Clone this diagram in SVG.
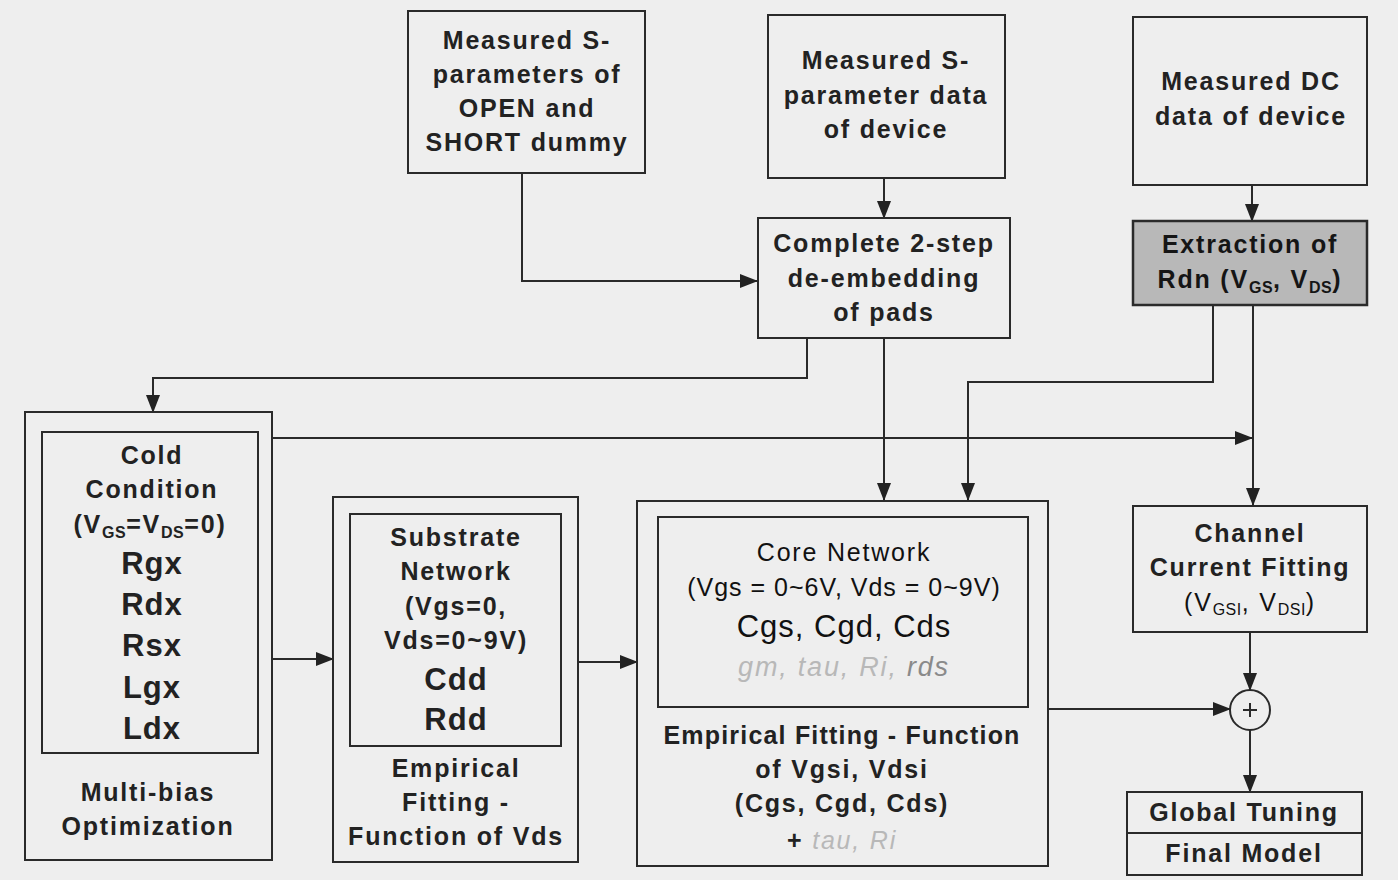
<svg xmlns="http://www.w3.org/2000/svg" width="1398" height="880" viewBox="0 0 1398 880">
<defs>
<marker id="ah" markerWidth="18" markerHeight="14" refX="17" refY="7" orient="auto" markerUnits="userSpaceOnUse">
<path d="M0,0 L18,7 L0,14 Z" fill="#222"/>
</marker>
<style>
.box{fill:none;stroke:#2a2a2a;stroke-width:2}
.t{font-family:"Liberation Sans",Arial,sans-serif;font-weight:bold;font-size:25px;fill:#222;text-anchor:middle;letter-spacing:1.8px}
.big{font-size:31px;letter-spacing:1px}
.sub{font-size:16px;letter-spacing:0.5px}
.ln{fill:none;stroke:#2a2a2a;stroke-width:2}
.lt{fill:#b8b8b8;font-style:italic;font-weight:normal}
.md{fill:#8a8a8a;font-style:italic;font-weight:normal}
.rg{font-weight:normal;fill:#111}
</style>
</defs>
<rect x="0" y="0" width="1398" height="880" fill="#eeeeee"/>

<g id="connectors">
<path class="ln" d="M522,173 V281 H757" marker-end="url(#ah)"/>
<path class="ln" d="M884,178 V218" marker-end="url(#ah)"/>
<path class="ln" d="M1252,185 V221" marker-end="url(#ah)"/>
<path class="ln" d="M807,338 V378 H153 V412" marker-end="url(#ah)"/>
<path class="ln" d="M884,338 V500" marker-end="url(#ah)"/>
<path class="ln" d="M1213,305 V382 H968 V500" marker-end="url(#ah)"/>
<path class="ln" d="M1253,305 V505" marker-end="url(#ah)"/>
<path class="ln" d="M272,438 H1252" marker-end="url(#ah)"/>
<path class="ln" d="M273,659 H333" marker-end="url(#ah)"/>
<path class="ln" d="M578,662 H637" marker-end="url(#ah)"/>
<path class="ln" d="M1048,709 H1230" marker-end="url(#ah)"/>
<path class="ln" d="M1250,632 V690" marker-end="url(#ah)"/>
<path class="ln" d="M1250,730 V792" marker-end="url(#ah)"/>
</g>

<g id="open-short">
<rect class="box" x="408" y="11" width="237" height="162"/>
<text class="t" x="527" y="49">Measured S-</text>
<text class="t" x="527" y="83">parameters of</text>
<text class="t" x="527" y="117">OPEN and</text>
<text class="t" x="527" y="151">SHORT dummy</text>
</g>

<g id="sparam-device">
<rect class="box" x="768" y="15" width="237" height="163"/>
<text class="t" x="886" y="69">Measured S-</text>
<text class="t" x="886" y="104">parameter data</text>
<text class="t" x="886" y="138">of device</text>
</g>

<g id="dc-device">
<rect class="box" x="1133" y="17" width="234" height="168"/>
<text class="t" x="1251" y="90">Measured DC</text>
<text class="t" x="1251" y="125">data of device</text>
</g>

<g id="deembed">
<rect class="box" x="758" y="218" width="252" height="120"/>
<text class="t" x="884" y="252">Complete 2-step</text>
<text class="t" x="884" y="287">de-embedding</text>
<text class="t" x="884" y="321">of pads</text>
</g>

<g id="extraction">
<rect x="1133" y="221" width="234" height="84" fill="#b8b8b8" stroke="#2a2a2a" stroke-width="2.5"/>
<text class="t" x="1250" y="253" style="fill:#151515">Extraction of</text>
<text class="t" x="1250" y="288" style="fill:#151515">Rdn (V<tspan class="sub" dy="5">GS</tspan><tspan dy="-5">, V</tspan><tspan class="sub" dy="5">DS</tspan><tspan dy="-5">)</tspan></text>
</g>

<g id="cold">
<rect class="box" x="25" y="412" width="247" height="448"/>
<rect class="box" x="42" y="432" width="216" height="321"/>
<text class="t" x="152" y="464">Cold</text>
<text class="t" x="152" y="498">Condition</text>
<text class="t" x="150" y="533">(V<tspan class="sub" dy="5">GS</tspan><tspan dy="-5">=V</tspan><tspan class="sub" dy="5">DS</tspan><tspan dy="-5">=0)</tspan></text>
<text class="t big" x="152" y="574">Rgx</text>
<text class="t big" x="152" y="615">Rdx</text>
<text class="t big" x="152" y="656">Rsx</text>
<text class="t big" x="152" y="698">Lgx</text>
<text class="t big" x="152" y="739">Ldx</text>
<text class="t" x="148" y="801">Multi-bias</text>
<text class="t" x="148" y="835">Optimization</text>
</g>

<g id="substrate">
<rect class="box" x="333" y="497" width="245" height="365"/>
<rect class="box" x="350" y="514" width="211" height="232"/>
<text class="t" x="456" y="546">Substrate</text>
<text class="t" x="456" y="580">Network</text>
<text class="t" x="456" y="615">(Vgs=0,</text>
<text class="t" x="456" y="649">Vds=0~9V)</text>
<text class="t big" x="456" y="690">Cdd</text>
<text class="t big" x="456" y="730">Rdd</text>
<text class="t" x="456" y="777">Empirical</text>
<text class="t" x="456" y="811">Fitting -</text>
<text class="t" x="456" y="845">Function of Vds</text>
</g>

<g id="core">
<rect class="box" x="637" y="501" width="411" height="365"/>
<rect class="box" x="658" y="517" width="370" height="190"/>
<text class="t rg" x="844" y="561">Core Network</text>
<text class="t rg" x="844" y="596" style="letter-spacing:1px">(Vgs = 0~6V, Vds = 0~9V)</text>
<text class="t big rg" x="844" y="637">Cgs, Cgd, Cds</text>
<text class="t" x="844" y="676" style="font-size:27px"><tspan class="lt">gm, tau, Ri, </tspan><tspan class="md">rds</tspan></text>
<text class="t" x="842" y="744" style="letter-spacing:1.2px">Empirical Fitting - Function</text>
<text class="t" x="842" y="778">of Vgsi, Vdsi</text>
<text class="t" x="842" y="812">(Cgs, Cgd, Cds)</text>
<text class="t" x="842" y="849">+ <tspan class="lt">tau, Ri</tspan></text>
</g>

<g id="channel">
<rect class="box" x="1133" y="506" width="234" height="126"/>
<text class="t" x="1250" y="542">Channel</text>
<text class="t" x="1250" y="576">Current Fitting</text>
<text class="t rg" x="1250" y="611">(V<tspan class="sub" dy="4">GSI</tspan><tspan dy="-4">, V</tspan><tspan class="sub" dy="4">DSI</tspan><tspan dy="-4">)</tspan></text>
</g>

<g id="sum">
<circle cx="1250" cy="710" r="20" fill="none" stroke="#2a2a2a" stroke-width="2"/>
<path d="M1243,710 H1257 M1250,703 V717" stroke="#2a2a2a" stroke-width="2"/>
</g>

<g id="global">
<rect class="box" x="1127" y="792" width="235" height="83"/>
<line class="ln" x1="1127" y1="833" x2="1362" y2="833"/>
<text class="t" x="1244" y="821">Global Tuning</text>
<text class="t" x="1244" y="862">Final Model</text>
</g>
</svg>
